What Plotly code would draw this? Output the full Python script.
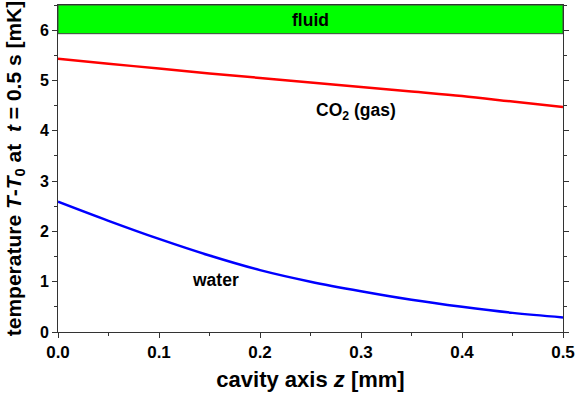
import plotly.graph_objects as go

z_vals = [0.0, 0.05, 0.1, 0.15, 0.2, 0.25, 0.3, 0.35, 0.4, 0.45, 0.5]
co2_vals = [5.43, 5.33, 5.24, 5.14, 5.05, 4.96, 4.87, 4.78, 4.69, 4.58, 4.47]
water_vals = [2.59, 2.21, 1.85, 1.52, 1.23, 1.00, 0.81, 0.64, 0.50, 0.38, 0.29]
fluid_band = [5.93, 6.5]
x_ticks = [0.0, 0.1, 0.2, 0.3, 0.4, 0.5]
x_tick_text = ["0.0", "0.1", "0.2", "0.3", "0.4", "0.5"]
y_ticks = [0, 1, 2, 3, 4, 5, 6]
y_tick_text = ["0", "1", "2", "3", "4", "5", "6"]

FONT = "Liberation Sans, Arial, sans-serif"

fig = go.Figure()
fig.add_trace(go.Scatter(x=z_vals, y=co2_vals, mode="lines",
                         line=dict(color="#ff0000", width=2.5, shape="spline"),
                         showlegend=False, hoverinfo="skip"))
fig.add_trace(go.Scatter(x=z_vals, y=water_vals, mode="lines",
                         line=dict(color="#0000ff", width=2.5, shape="spline"),
                         showlegend=False, hoverinfo="skip"))

fig.add_shape(type="rect", xref="x", yref="y", x0=0, x1=0.5,
              y0=fluid_band[0], y1=fluid_band[1],
              fillcolor="#00ff00", line=dict(color="#444444", width=1),
              layer="below")

fig.add_annotation(x=0.25, y=6.21, xref="x", yref="y", text="<b>fluid</b>",
                   showarrow=False, font=dict(family=FONT, size=17.5, color="black"))
fig.add_annotation(x=0.295, y=4.39, xref="x", yref="y", text="<b>CO<sub>2</sub> (gas)</b>",
                   showarrow=False, font=dict(family=FONT, size=17.5, color="black"))
fig.add_annotation(x=0.156, y=1.03, xref="x", yref="y", text="<b>water</b>",
                   showarrow=False, font=dict(family=FONT, size=17.5, color="black"))

axis_common = dict(showgrid=False, zeroline=False, showline=True,
                   linecolor="#333333", linewidth=1, ticks="outside",
                   tickcolor="#333333", ticklen=5, tickwidth=1, automargin=False)

fig.update_xaxes(range=[0, 0.5], tickvals=x_ticks,
                 ticktext=["<b>" + t + "</b>" for t in x_tick_text],
                 tickfont=dict(family=FONT, size=17, color="black"),
                 mirror=True,
                 minor=dict(dtick=0.05, ticks="outside", ticklen=3, tickcolor="#333333"),
                 title=dict(text="<b>cavity axis <i>z</i> [mm]</b>", standoff=10,
                            font=dict(family=FONT, size=22, color="black")),
                 **axis_common)
fig.update_yaxes(range=[0, 6.5], tickvals=y_ticks,
                 ticktext=["<b>" + t + "</b>" for t in y_tick_text],
                 tickfont=dict(family=FONT, size=16, color="black"),
                 mirror="ticks",
                 minor=dict(dtick=0.5, ticks="outside", ticklen=3, tickcolor="#333333"),
                 title=dict(text="<b>temperature <i>T</i>-<i>T</i><sub>0</sub> at  <i>t</i> = 0.5 s [mK]</b>",
                            standoff=12, font=dict(family=FONT, size=21, color="black")),
                 **axis_common)

fig.update_layout(width=576, height=397, margin=dict(l=58, r=13, t=5, b=65),
                  paper_bgcolor="white", plot_bgcolor="white",
                  font=dict(family=FONT), hovermode=False)

fig.write_html("out.html", config={"displayModeBar": False},
               post_script="document.body.style.margin='0';")
